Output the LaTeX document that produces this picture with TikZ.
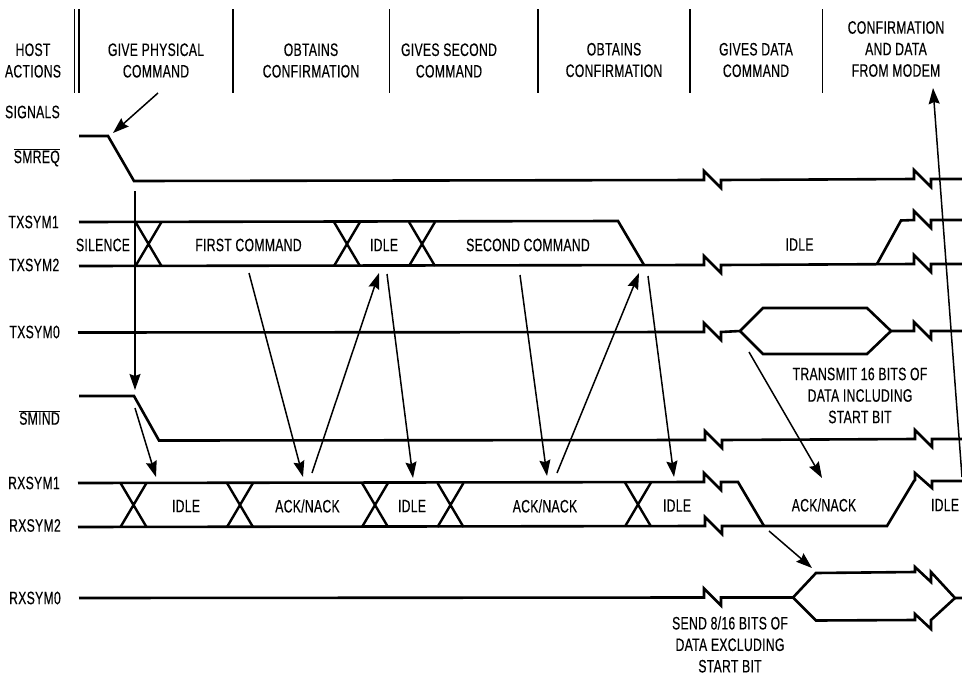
\documentclass[tikz,border=0pt]{standalone}
\usepackage{fontspec}
\setmainfont[FakeStretch=0.68,LetterSpace=1.5,FakeBold=0.35]{Liberation Sans}
\usetikzlibrary{arrows.meta}
\tikzset{
  x=1pt,y=-1pt,
  wave/.style={line width=2.6pt,line join=miter,line cap=butt},
  xing/.style={line width=2.4pt},
  sep/.style={line width=1.9pt},
  cause/.style={line width=1.5pt,-{Stealth[length=16pt,width=11pt,inset=2pt]}},
  lab/.style={inner sep=0pt,align=center,font=\fontsize{18}{21.5}\selectfont},
  sig/.style={lab,anchor=east},
}
% break mark in a horizontal trace
\newcommand{\brk}[2]{-- (#1,#2) -- (#1,#2-9) -- (#1+17,#2+8) -- (#1+17,#2)}
\newcommand{\xcross}[3]{\draw[xing] (#1,#2) -- (#1+26,#3) (#1,#3) -- (#1+26,#2);}
\newcommand{\causal}[3]{\coordinate (#1s) at (#2); \coordinate (#1e) at (#3); \draw[cause] (#1s) -- (#1e);}
\begin{document}
\begin{tikzpicture}
\useasboundingbox (0,0) rectangle (962,675);
% header separators
\draw[sep] (74.5,9) -- (74.5,93) (79,9) -- (79,93);
\foreach \xx in {233,389.5,538,690,822.5} \draw[sep] (\xx,9) -- (\xx,93);
% header texts
\node[lab] (h0) at (33,60.5) {HOST\\ACTIONS};
\node[lab] (h1) at (156,60.5) {GIVE PHYSICAL\\COMMAND};
\node[lab] (h2) at (311,60.5) {OBTAINS\\CONFIRMATION};
\node[lab] (h3) at (449,60.5) {GIVES SECOND\\COMMAND};
\node[lab] (h4) at (614,60) {OBTAINS\\CONFIRMATION};
\node[lab] (h5) at (756,60) {GIVES DATA\\COMMAND};
\node[lab] (h6) at (896,49) {CONFIRMATION\\AND DATA\\FROM MODEM};
% signal names
\node[sig] (s0) at (60,112) {SIGNALS};
\node[sig] (s1) at (60,157.5) {$\overline{\hbox{SMREQ}}$};
\node[sig] (s2) at (59,222) {TXSYM1};
\node[sig] (s3) at (59.5,265) {TXSYM2};
\node[sig] (s4) at (60,332) {TXSYM0};
\node[sig] (s5) at (60,417.5) {$\overline{\hbox{SMIND}}$};
\node[sig] (s6) at (60,483) {RXSYM1};
\node[sig] (s7) at (61,525.5) {RXSYM2};
\node[sig] (s8) at (61,598) {RXSYM0};
% SMREQ
\draw[wave] (79,136) -- (108,136) -- (134,181) \brk{704}{180} \brk{914}{179} -- (962,179);
% TXSYM1/2
\draw[wave] (79,222) -- (618,221) -- (644,265);
\draw[wave] (79,266) \brk{704}{265} \brk{914}{264} -- (962,264);
\draw[wave] (877,264) -- (901,220.5) \brk{914}{220} -- (962,220);
\xcross{135.5}{222}{266}
\xcross{334}{222}{266}
\xcross{409}{222}{266}
% TXSYM0
\draw[wave] (78,332.5) \brk{704}{332} -- (740,331) -- (763,308) -- (867,308) -- (891,331) \brk{914}{331} -- (962,331);
\draw[wave] (740,331) -- (763,354) -- (867,354) -- (891,331);
% SMIND
\draw[wave] (79,396) -- (134,396) -- (159,440.5) \brk{705}{440} \brk{915}{439} -- (962,439);
% RXSYM1/2
\draw[wave] (78,483) \brk{704}{482} -- (738,482) -- (764,526);
\draw[wave] (78,527) \brk{705}{526} -- (887,526) -- (914,481) -- (915,480) -- (915,473) -- (932,488) -- (932,481) -- (962,481);
\xcross{120.5}{483}{527}
\xcross{227}{483}{527}
\xcross{362}{483}{527}
\xcross{437.5}{483}{527}
\xcross{625}{482.5}{526.5}
% RXSYM0
\draw[wave] (79,598) \brk{704}{597.5} -- (793,597.5) -- (816,573) -- (915,572) -- (915,567) -- (931,582) -- (931,572) -- (955,598) -- (962,598);
\draw[wave] (793,597.5) -- (816,620.5) -- (915,620) -- (915,614) -- (931,629) -- (931,620) -- (955,598);
% data-phase labels
\node[lab] (t1) at (103,245) {SILENCE};
\node[lab] (t2) at (248.5,245) {FIRST COMMAND};
\node[lab] (t3) at (384,245) {IDLE};
\node[lab] (t4) at (528,245) {SECOND COMMAND};
\node[lab] (t5) at (799.5,244.5) {IDLE};
\node[lab] (r1) at (186,506) {IDLE};
\node[lab] (r2) at (307.5,506) {ACK/NACK};
\node[lab] (r3) at (412,506) {IDLE};
\node[lab] (r4) at (545,506) {ACK/NACK};
\node[lab] (r5) at (677,505.5) {IDLE};
\node[lab] (r6) at (824,505) {ACK/NACK};
\node[lab] (r7) at (945,505) {IDLE};
\node[lab] (n1) at (860,395.5) {TRANSMIT 16 BITS OF\\DATA INCLUDING\\START BIT};
\node[lab] (n2) at (730,644.5) {SEND 8/16 BITS OF\\DATA EXCLUDING\\START BIT};
% causal arrows
\causal{a1}{158,93}{113,133}
\causal{a2}{135,191}{135,390}
\causal{a3}{135,408}{156,477}
\causal{a4}{249,273}{303,477}
\causal{a5}{312,473}{379,273}
\causal{a6}{387,274}{413,478}
\causal{a7}{520,275}{547,476}
\causal{a8}{557,473}{639,273}
\causal{a9}{648,276}{674,477}
\causal{a10}{749,352}{822,478}
\causal{a11}{769,531}{812,568}
\causal{a12}{962,477}{933,88}
\end{tikzpicture}
\end{document}
